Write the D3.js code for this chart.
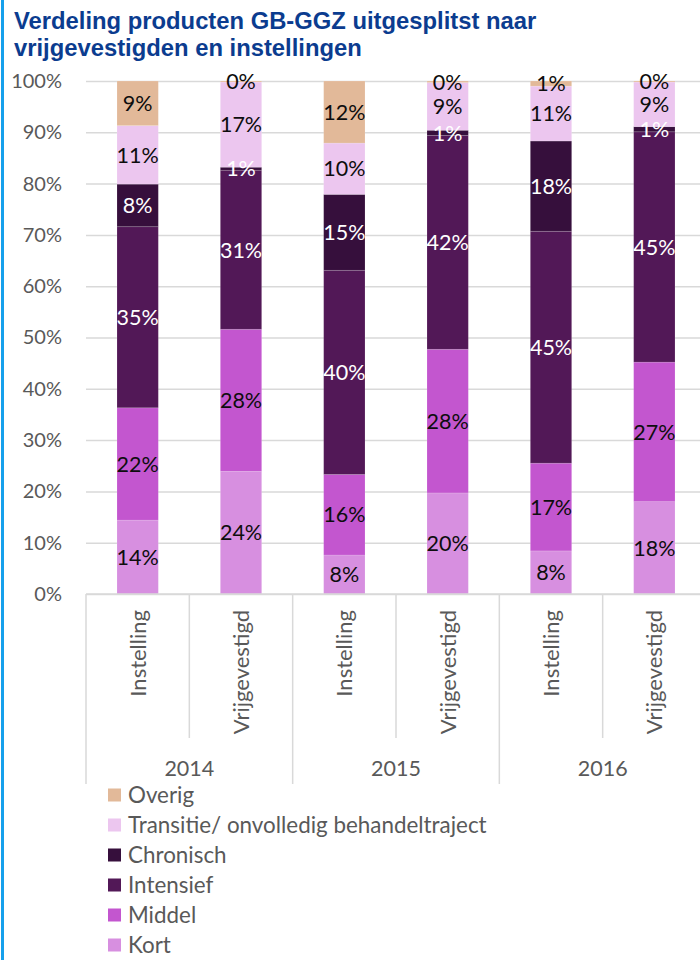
<!DOCTYPE html>
<html>
<head>
<meta charset="utf-8">
<script src="https://cdn.jsdelivr.net/npm/d3@7"></script>
<style>
  body { margin: 0; background: #fff; }
  svg { display: block; }
  .tick text, .lbl, .legend text, .cat, .year { font-family: Lato, "Open Sans", sans-serif; }
</style>
</head>
<body>
<div id="chart"></div>
<script>
// categories
const years = ["2014", "2015", "2016"];
const types = ["Instelling", "Vrijgevestigd"];
const cats = ["2014|Instelling", "2014|Vrijgevestigd", "2015|Instelling", "2015|Vrijgevestigd", "2016|Instelling", "2016|Vrijgevestigd"];

// series values (percent), bottom to top
const kort      = [14.4, 23.9,  7.6, 19.7,  8.4, 18.0];
const middel    = [21.9, 27.7, 15.7, 28.0, 17.1, 27.2];
const intensief = [35.3, 31.0, 39.8, 41.7, 45.2, 44.9];
const chronisch = [ 8.3,  0.6, 14.8,  1.0, 17.6,  1.0];
const transitie = [11.4, 16.6, 10.0,  9.3, 10.7,  8.7];
const overig    = [ 8.7,  0.2, 12.1,  0.3,  1.0,  0.2];

const yTicks = [0, 10, 20, 30, 40, 50, 60, 70, 80, 90, 100];

const keys = ["Kort", "Middel", "Intensief", "Chronisch", "Transitie", "Overig"];
const legendNames = {
  Overig: "Overig",
  Transitie: "Transitie/ onvolledig behandeltraject",
  Chronisch: "Chronisch",
  Intensief: "Intensief",
  Middel: "Middel",
  Kort: "Kort"
};
const colors = {
  Kort: "#d78fe0", Middel: "#c356cf", Intensief: "#521857",
  Chronisch: "#360f3c", Transitie: "#ecc6ef", Overig: "#e2b999"
};
const darkKeys = ["Intensief", "Chronisch"];

const rows = cats.map((c, i) => ({
  cat: c, Kort: kort[i], Middel: middel[i], Intensief: intensief[i],
  Chronisch: chronisch[i], Transitie: transitie[i], Overig: overig[i]
}));

const W = 700, H = 960;
const plotLeft = 86, plotRight = 706, plotTop = 81, plotBottom = 594;

const svg = d3.select("#chart").append("svg")
  .attr("width", W).attr("height", H);

svg.append("rect").attr("width", W).attr("height", H).attr("fill", "#fff");
// blue frame line on the left
svg.append("rect").attr("x", 1).attr("y", 0).attr("width", 3).attr("height", H).attr("fill", "#16a0ec");

// title
const title = svg.append("g").attr("font-family", "'Liberation Sans', Arial, sans-serif")
  .attr("font-weight", "bold").attr("font-size", 23.8).attr("fill", "#0b3c8f");
title.append("text").attr("x", 14).attr("y", 29)
  .text("Verdeling producten GB-GGZ uitgesplitst naar");
title.append("text").attr("x", 14).attr("y", 56)
  .text("vrijgevestigden en instellingen");

const x = d3.scaleBand().domain(cats).range([plotLeft, plotRight]).paddingInner(0.6).paddingOuter(0.3);
const y = d3.scaleLinear().domain([0, 100]).range([plotBottom, plotTop]);

// y axis with gridlines
const yAxis = svg.append("g").attr("transform", `translate(${plotLeft},0)`)
  .call(d3.axisLeft(y).tickValues(yTicks).tickFormat(d => d + "%")
    .tickSize(-(W - plotLeft)).tickPadding(24));
yAxis.select(".domain").remove();
yAxis.selectAll(".tick line").attr("stroke", "#d9d9d9").attr("stroke-width", 1.5);
yAxis.selectAll(".tick text").attr("font-size", 20).attr("fill", "#595959");

// bars
const series = d3.stack().keys(keys)(rows);
const layer = svg.append("g").selectAll("g").data(series).join("g")
  .attr("fill", d => colors[d.key]);
layer.selectAll("rect").data(d => d).join("rect")
  .attr("x", d => x(d.data.cat))
  .attr("width", x.bandwidth())
  .attr("y", d => y(d[1]))
  .attr("height", d => y(d[0]) - y(d[1]))
  .attr("stroke", "rgba(255,255,255,0.18)").attr("stroke-width", 0.8);

// data labels
const lab = svg.append("g").selectAll("g").data(series).join("g")
  .attr("fill", d => darkKeys.includes(d.key) ? "#fff" : "#0d0d0d");
lab.selectAll("text").data(d => d).join("text")
  .attr("class", "lbl")
  .attr("x", d => x(d.data.cat) + x.bandwidth() / 2)
  .attr("y", d => y((d[0] + d[1]) / 2))
  .attr("dy", "0.36em")
  .attr("text-anchor", "middle")
  .attr("font-size", 21.5)
  .text(d => Math.round(d[1] - d[0]) + "%");

// category axis: baseline, dividers, labels
const step = x.step();
const bounds = d3.range(cats.length + 1).map(i => plotLeft + i * step);
svg.append("line").attr("x1", plotLeft).attr("x2", W).attr("y1", plotBottom).attr("y2", plotBottom)
  .attr("stroke", "#d9d9d9").attr("stroke-width", 1.5);
svg.append("g").selectAll("line").data(bounds).join("line")
  .attr("x1", d => d).attr("x2", d => d)
  .attr("y1", plotBottom)
  .attr("y2", (d, i) => i % 2 === 0 ? 784 : 738)
  .attr("stroke", "#d9d9d9").attr("stroke-width", 1.5);

svg.append("g").selectAll("text").data(cats).join("text")
  .attr("class", "cat")
  .attr("transform", d => `translate(${x(d) + x.bandwidth() / 2},610) rotate(-90)`)
  .attr("dy", "0.36em")
  .attr("text-anchor", "end")
  .attr("font-size", 22)
  .attr("fill", "#595959")
  .text(d => d.split("|")[1]);

svg.append("g").selectAll("text").data(years).join("text")
  .attr("class", "year")
  .attr("x", (d, i) => (bounds[i * 2] + bounds[i * 2 + 2]) / 2)
  .attr("y", 776)
  .attr("text-anchor", "middle")
  .attr("font-size", 21.5)
  .attr("fill", "#595959")
  .text(d => d);

// legend
const legendKeys = keys.slice().reverse();
const lg = svg.append("g").attr("class", "legend").selectAll("g").data(legendKeys).join("g")
  .attr("transform", (d, i) => `translate(108,${795 + i * 30})`);
lg.append("rect").attr("x", 0).attr("y", -6.5).attr("width", 13).attr("height", 13)
  .attr("fill", d => colors[d]);
lg.append("text").attr("x", 20).attr("dy", "0.36em")
  .attr("font-size", 22.4).attr("fill", "#595959")
  .text(d => legendNames[d]);
</script>
</body>
</html>
